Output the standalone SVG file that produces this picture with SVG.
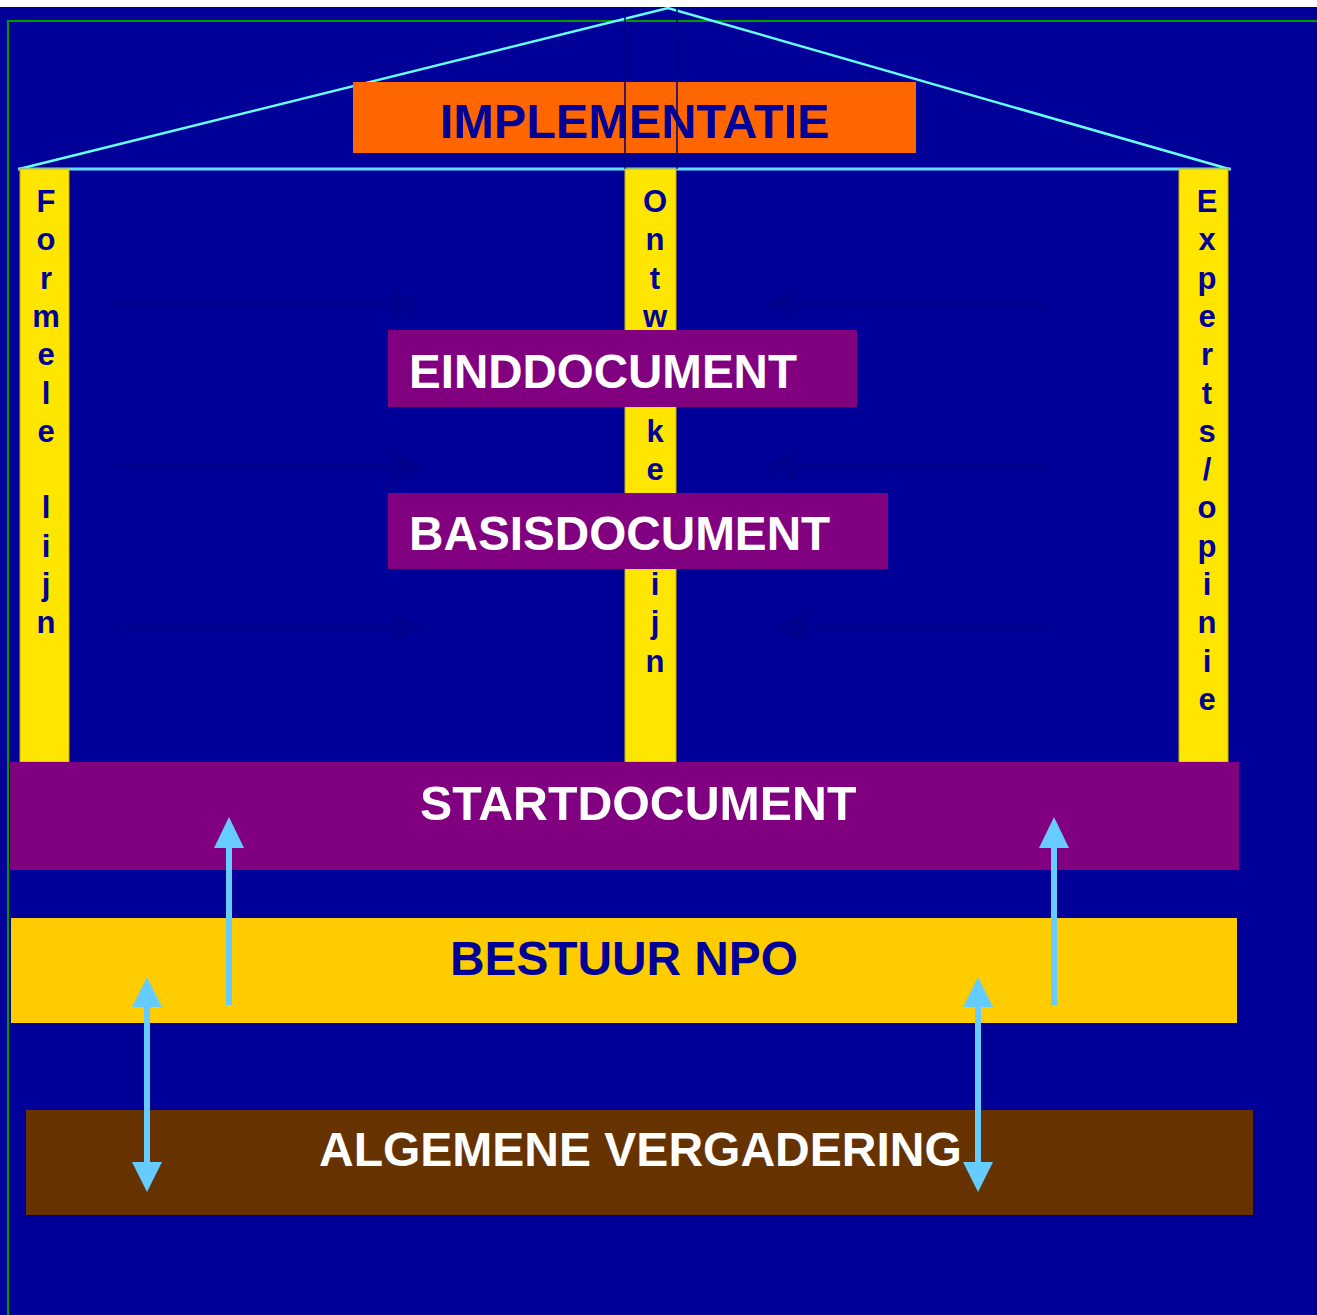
<svg xmlns="http://www.w3.org/2000/svg" width="1317" height="1315" viewBox="0 0 1317 1315">
<defs>
<style>
.lbl{font-family:"Liberation Sans",Arial,sans-serif;font-weight:bold;font-size:47.8px}
.w{fill:#FFFFFF}
.b{fill:#000099}
.pil{fill:#FFE600;stroke:#C8B400;stroke-width:1}
.pt{font-family:"Liberation Sans",Arial,sans-serif;font-weight:bold;font-size:31px;fill:#000099;text-anchor:middle}
.faint{stroke:#00008F;stroke-width:5;fill:none}
.fainth{fill:#00008F}
.lb{stroke:#66CCFF;stroke-width:6;fill:none}
.lbh{fill:#66CCFF}
.roof{stroke:#66FFFF;stroke-width:2.5;fill:none}
</style>
</defs>
<rect x="0" y="0" width="1317" height="1315" fill="#FFFFFF"/>
<rect x="0" y="7" width="1317" height="1308" fill="#000099"/>
<path d="M8,1315 V21 H1317" stroke="#009900" stroke-width="2" fill="none"/>

<g id="roof">
<path class="roof" d="M19,169 L668,8 L1229,169"/>
<path d="M18,169 H1231" stroke="#66DDFF" stroke-width="3"/>
</g>

<g id="implementatie">
<rect x="353" y="82" width="563" height="71" fill="#FF6600"/>
<text class="lbl b" x="440" y="138" style="font-size:48.6px">IMPLEMENTATIE</text>
</g>
<g id="center-guides">
<path d="M625,8 V169 M677,8 V169" stroke="#000080" stroke-width="1.5"/>
</g>

<g id="pillar-formele-lijn">
<rect class="pil" x="20" y="169" width="49" height="593"/>
<text class="pt"><tspan x="46" y="212">F</tspan><tspan x="46" dy="38.3">o</tspan><tspan x="46" dy="38.3">r</tspan><tspan x="46" dy="38.3">m</tspan><tspan x="46" dy="38.3">e</tspan><tspan x="46" dy="38.3">l</tspan><tspan x="46" dy="38.3">e</tspan><tspan x="46" dy="76.6">l</tspan><tspan x="46" dy="38.3">i</tspan><tspan x="46" dy="38.3">j</tspan><tspan x="46" dy="38.3">n</tspan></text>
</g>

<g id="pillar-ontwikkellijn">
<rect class="pil" x="625" y="169" width="51" height="593"/>
<text class="pt"><tspan x="655" y="212">O</tspan><tspan x="655" dy="38.3">n</tspan><tspan x="655" dy="38.3">t</tspan><tspan x="655" dy="38.3">w</tspan><tspan x="655" dy="114.9">k</tspan><tspan x="655" dy="38.3">e</tspan><tspan x="655" dy="114.9">i</tspan><tspan x="655" dy="38.3">j</tspan><tspan x="655" dy="38.3">n</tspan></text>
</g>

<g id="pillar-experts-opinie">
<rect class="pil" x="1179" y="169" width="49" height="593"/>
<text class="pt"><tspan x="1207" y="212">E</tspan><tspan x="1207" dy="38.3">x</tspan><tspan x="1207" dy="38.3">p</tspan><tspan x="1207" dy="38.3">e</tspan><tspan x="1207" dy="38.3">r</tspan><tspan x="1207" dy="38.3">t</tspan><tspan x="1207" dy="38.3">s</tspan><tspan x="1207" dy="38.3">/</tspan><tspan x="1207" dy="38.3">o</tspan><tspan x="1207" dy="38.3">p</tspan><tspan x="1207" dy="38.3">i</tspan><tspan x="1207" dy="38.3">n</tspan><tspan x="1207" dy="38.3">i</tspan><tspan x="1207" dy="38.3">e</tspan></text>
</g>

<g id="einddocument">
<rect x="388" y="330" width="469" height="77" fill="#800080"/>
<text class="lbl w" x="409" y="388" style="font-size:47.5px">EINDDOCUMENT</text>
</g>

<g id="basisdocument">
<rect x="388" y="493" width="500" height="76" fill="#800080"/>
<text class="lbl w" x="409" y="550" style="font-size:47.7px">BASISDOCUMENT</text>
</g>

<g id="startdocument">
<rect x="10" y="762" width="1229" height="108" fill="#800080"/>
<text class="lbl w" x="420" y="820" style="font-size:48.3px">STARTDOCUMENT</text>
</g>

<g id="bestuur-npo">
<rect x="11" y="918" width="1226" height="105" fill="#FFCC00"/>
<text class="lbl b" x="450" y="975">BESTUUR NPO</text>
</g>

<g id="algemene-vergadering">
<rect x="26" y="1110" width="1227" height="105" fill="#663300"/>
<text class="lbl w" x="319" y="1166" style="font-size:48px">ALGEMENE VERGADERING</text>
</g>

<g id="connectors">
<path class="faint" d="M115,304 H395 M115,466 H395 M115,628 H395"/>
<polygon class="fainth" points="392,289 422,304 392,319"/>
<polygon class="fainth" points="392,451 422,466 392,481"/>
<polygon class="fainth" points="392,613 422,628 392,643"/>
<path class="faint" d="M1045,304 H793 M1045,466 H793 M1054,628 H801"/>
<polygon class="fainth" points="795,289 766,304 795,319"/>
<polygon class="fainth" points="795,451 766,466 795,481"/>
<polygon class="fainth" points="803,613 775,628 803,643"/>

<path class="lb" d="M229,1005 V845"/>
<polygon class="lbh" points="214,848 229,817 244,848"/>
<path class="lb" d="M1054,1005 V845"/>
<polygon class="lbh" points="1039,848 1054,817 1069,848"/>

<path class="lb" d="M147,1005 V1164" stroke-width="5"/>
<polygon class="lbh" points="132,1007 147,977 162,1007"/>
<polygon class="lbh" points="132,1162 147,1192 162,1162"/>
<path class="lb" d="M978,1005 V1164" stroke-width="5"/>
<polygon class="lbh" points="963,1007 978,977 993,1007"/>
<polygon class="lbh" points="963,1162 978,1192 993,1162"/>
</g>
</svg>
